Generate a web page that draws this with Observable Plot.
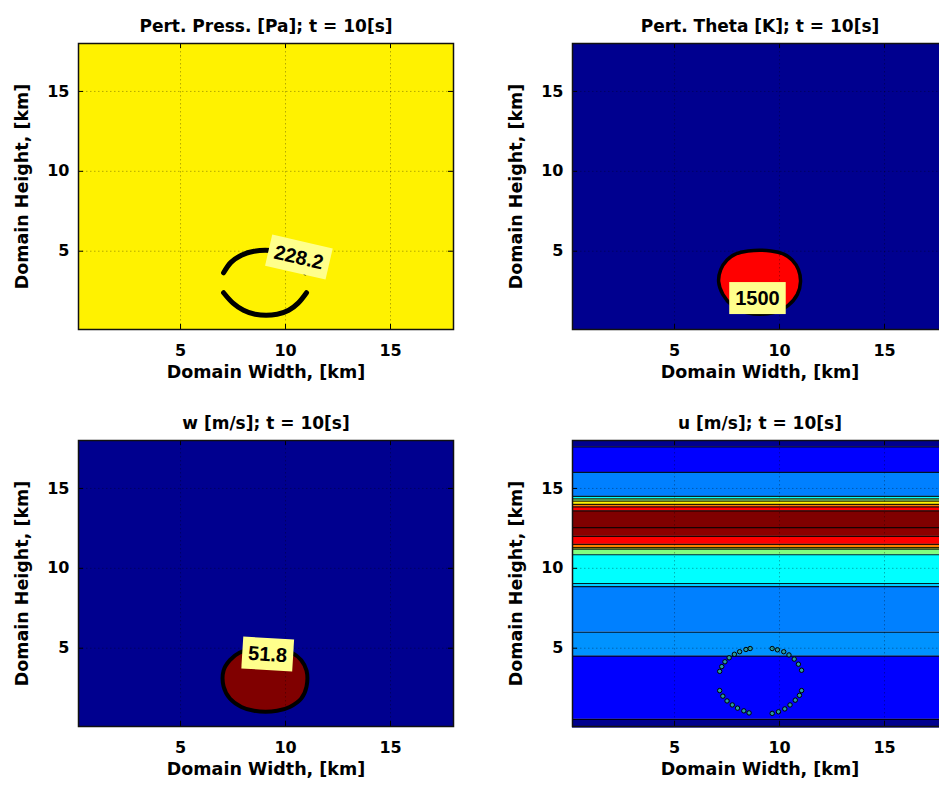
<!DOCTYPE html>
<html>
<head>
<meta charset="utf-8">
<script src="https://cdn.jsdelivr.net/npm/d3@7"></script>
<script src="https://cdn.jsdelivr.net/npm/@observablehq/plot@0.6"></script>
<style>
  html, body { margin: 0; padding: 0; background: #fff; overflow: hidden; }
  #chart { position: relative; width: 939px; height: 790px; overflow: hidden; background: #fff; }
  .panel { position: absolute; width: 470px; height: 397px; }
  .panel svg { display: block; overflow: visible; }
</style>
</head>
<body>
<div id="chart"></div>
<script>
// ---------------- data ----------------
const xTicks = [5, 10, 15];
const yTicks = [5, 10, 15];
const xDomain = [0.14, 18];
const yDomain = [0.1, 18];
const xLabel = "Domain Width, [km]";
const yLabel = "Domain Height, [km]";
const panelTitles = [
  "Pert. Press. [Pa]; t = 10[s]",
  "Pert. Theta [K]; t = 10[s]",
  "w [m/s]; t = 10[s]",
  "u [m/s]; t = 10[s]"
];

// jet-like colour levels (0 = lowest ... 8 = highest)
const jetLevels = [0, 1, 2, 3, 4, 5, 6, 7, 8];
const jetColors = ["#00008f", "#0000ff", "#0080ff", "#00ffff", "#80ff80", "#fff200", "#ff8000", "#ff0000", "#800000"];

// uniform background level of each filled-contour panel
const pressBackgroundLevel = 5;
const thetaBackgroundLevel = 0;
const wBackgroundLevel = 0;
const thetaBubbleLevel = 7;
const wBubbleLevel = 8;

// Pert. pressure: 228.2 Pa contour, two arcs [x km, y km]
const pressArcTop = [[7.05, 3.65], [7.4, 4.3], [7.9, 4.75], [8.5, 5.0], [9.6, 5.0], [10.2, 4.78], [10.65, 4.35], [10.95, 3.65]];
const pressArcBottom = [[7.05, 2.4], [7.5, 1.75], [8.0, 1.3], [8.55, 1.05], [9.6, 1.05], [10.15, 1.3], [10.6, 1.75], [11.0, 2.4]];

// Pert. theta: 1500 K contour (closed)
const thetaBubble = [[8.5, 5.02], [9.6, 5.02], [10.2, 4.82], [10.6, 4.45], [10.9, 3.85], [11.0, 3.1], [10.85, 2.3], [10.4, 1.6], [9.7, 1.15], [8.45, 1.15], [7.75, 1.6], [7.3, 2.3], [7.1, 3.1], [7.2, 3.85], [7.5, 4.45], [7.9, 4.82]];

// w: 51.8 m/s contour (closed)
const wBubble = [[8.5, 4.95], [9.6, 4.95], [10.3, 4.72], [10.75, 4.25], [11.0, 3.6], [11.0, 2.6], [10.75, 1.85], [10.2, 1.32], [9.6, 1.08], [8.5, 1.08], [7.9, 1.32], [7.35, 1.85], [7.05, 2.6], [7.05, 3.6], [7.35, 4.25], [7.8, 4.72]];

// u: horizontal contour bands (km) and their colour level
const uBandBottom = [0, 0.55, 4.5, 6.0, 8.85, 9.05, 10.85, 11.2, 11.3, 11.5, 12.0, 12.55, 13.6, 13.85, 14.0, 14.2, 14.35, 14.5, 16.0, 17.6];
const uBandTop    = [0.55, 4.5, 6.0, 8.85, 9.05, 10.85, 11.2, 11.3, 11.5, 12.0, 12.55, 13.6, 13.85, 14.0, 14.2, 14.35, 14.5, 16.0, 17.6, 18];
const uBandLevel  = [0, 1, 2.15, 2, 2.6, 3, 4, 5, 6, 7, 7.9, 8, 7, 6, 5, 4, 3, 2, 1, 0];

// u: dotted contour markers around the bubble
const uMarkers = [
  [7.15, 3.55], [7.25, 3.85], [7.4, 4.15], [7.6, 4.4], [7.85, 4.62], [8.1, 4.78], [8.4, 4.92], [8.6, 4.98],
  [9.65, 4.98], [9.9, 4.9], [10.2, 4.78], [10.45, 4.58], [10.7, 4.32], [10.9, 4.0], [11.05, 3.62],
  [7.15, 2.35], [7.3, 2.0], [7.5, 1.7], [7.75, 1.45], [8.0, 1.25], [8.3, 1.08], [8.55, 0.95],
  [9.65, 0.92], [9.95, 1.02], [10.25, 1.2], [10.5, 1.45], [10.75, 1.75], [10.95, 2.05], [11.05, 2.35]
];

// contour labels
const pressLabel = [{x: 10.63, y: 4.6, text: "228.2"}];
const thetaLabel = [{x: 8.95, y: 2.03, text: "1500"}];
const wLabel = [{x: 9.15, y: 4.6, text: "51.8"}];
const labelTexts = ["228.2", "1500", "51.8"];

// ---------------- drawing ----------------
const jet = d3.scaleLinear().domain(jetLevels).range(jetColors).interpolate(d3.interpolateRgb);
const uBands = uBandBottom.map((b, i) => ({y0: b, y1: uBandTop[i], level: uBandLevel[i]}));
const uBoundaries = uBandTop.slice(0, -1);

const FRAME_H = 286, FRAME_W = 375;
const labelFont = "'Liberation Sans', Arial, sans-serif";

function panel(title, fills, labels) {
  return Plot.plot({
    width: 470, height: 397,
    marginTop: 43, marginRight: 17, marginBottom: 68, marginLeft: 78,
    x: {domain: xDomain},
    y: {domain: yDomain},
    style: {fontFamily: "'DejaVu Sans', sans-serif", fontWeight: "bold", fontSize: "16px", color: "#000", background: "transparent"},
    marks: [
      ...fills,
      Plot.gridX(xTicks, {stroke: "#000", strokeOpacity: 0.3, strokeDasharray: "1.5,2.5"}),
      Plot.gridY(yTicks, {stroke: "#000", strokeOpacity: 0.3, strokeDasharray: "1.5,2.5"}),
      ...labels,
      Plot.tickX(xTicks, {x: d => d, insetTop: FRAME_H - 5, stroke: "#000"}),
      Plot.tickX(xTicks, {x: d => d, insetBottom: FRAME_H - 5, stroke: "#000"}),
      Plot.tickY(yTicks, {y: d => d, insetRight: FRAME_W - 5, stroke: "#000"}),
      Plot.tickY(yTicks, {y: d => d, insetLeft: FRAME_W - 5, stroke: "#000"}),
      Plot.axisX(xTicks, {tickSize: 0, tickPadding: 15, label: null, fontSize: 16}),
      Plot.axisY(yTicks, {tickSize: 0, tickPadding: 9, label: null, fontSize: 16}),
      Plot.text([title], {text: d => d, frameAnchor: "top", textAnchor: "middle", dy: -24, fontSize: 17}),
      Plot.text([xLabel], {text: d => d, frameAnchor: "bottom", textAnchor: "middle", dy: 48, fontSize: 17.5}),
      Plot.text([yLabel], {text: d => d, frameAnchor: "left", textAnchor: "middle", dx: -56, rotate: -90, fontSize: 17.5}),
      Plot.frame({stroke: "#111", strokeWidth: 1.5})
    ]
  });
}

function labelMark(data, angle) {
  return Plot.text(data, {x: "x", y: "y", text: "text", rotate: angle, fontFamily: labelFont, fontSize: 20, fill: "#000"});
}

const panels = [
  {left: 0, top: 0, svg: panel(panelTitles[0], [
    Plot.frame({fill: jet(pressBackgroundLevel), stroke: null}),
    Plot.line(pressArcTop, {x: d => d[0], y: d => d[1], stroke: "#000", strokeWidth: 5, strokeLinecap: "round", curve: "catmull-rom"}),
    Plot.line(pressArcBottom, {x: d => d[0], y: d => d[1], stroke: "#000", strokeWidth: 5, strokeLinecap: "round", curve: "catmull-rom"})
  ], [labelMark(pressLabel, 13)])},
  {left: 494, top: 0, svg: panel(panelTitles[1], [
    Plot.frame({fill: jet(thetaBackgroundLevel), stroke: null}),
    Plot.line(thetaBubble, {x: d => d[0], y: d => d[1], fill: jet(thetaBubbleLevel), stroke: "#000", strokeWidth: 3.5, curve: "catmull-rom-closed"})
  ], [labelMark(thetaLabel, 0)])},
  {left: 0, top: 397, svg: panel(panelTitles[2], [
    Plot.frame({fill: jet(wBackgroundLevel), stroke: null}),
    Plot.line(wBubble, {x: d => d[0], y: d => d[1], fill: jet(wBubbleLevel), stroke: "#000", strokeWidth: 4, curve: "catmull-rom-closed"})
  ], [labelMark(wLabel, 3.5)])},
  {left: 494, top: 397, svg: panel(panelTitles[3], [
    Plot.rect(uBands, {y1: "y0", y2: "y1", fill: d => jet(d.level)}),
    Plot.ruleY(uBoundaries, {y: d => d, stroke: "#000", strokeWidth: 1.2, strokeOpacity: 0.85}),
    Plot.dot(uMarkers, {x: d => d[0], y: d => d[1], r: 2.2, stroke: "#000", strokeWidth: 1, fill: "#2a9d9d"})
  ], [])}
];

const chart = document.getElementById("chart");
for (const p of panels) {
  const div = document.createElement("div");
  div.className = "panel";
  div.style.left = p.left + "px";
  div.style.top = p.top + "px";
  div.appendChild(p.svg);
  chart.appendChild(div);
  // light-yellow boxes behind contour labels (clabel style)
  p.svg.querySelectorAll("text").forEach(t => {
    if (!labelTexts.includes(t.textContent)) return;
    const b = t.getBBox();
    const r = document.createElementNS("http://www.w3.org/2000/svg", "rect");
    r.setAttribute("x", b.x - 6);
    r.setAttribute("y", b.y - 5);
    r.setAttribute("width", b.width + 12);
    r.setAttribute("height", b.height + 10);
    r.setAttribute("fill", "#ffff8c");
    const tr = t.getAttribute("transform");
    if (tr) r.setAttribute("transform", tr);
    t.parentNode.insertBefore(r, t);
  });
}
</script>
</body>
</html>
